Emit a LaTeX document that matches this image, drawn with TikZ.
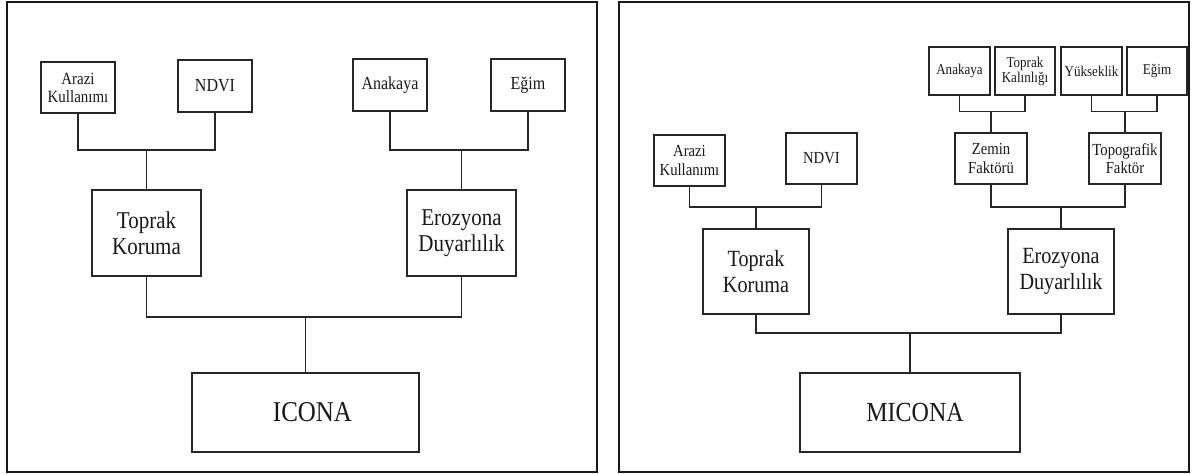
\documentclass[tikz,border=0pt]{standalone}
\usepackage{fontspec}
\setmainfont[FakeStretch=0.87]{Liberation Serif}
\begin{document}
\begin{tikzpicture}[x=1pt,y=-1pt,
  box/.style={draw=black!85, line width=1.6pt, inner sep=0pt, align=center, text=black!90},
  frame/.style={draw=black!90, line width=2.2pt},
  conn/.style={draw=black!85, line width=1.6pt},
  fs/.style={font=\fontsize{17.2}{18}\selectfont},
  fm/.style={font=\fontsize{18.4}{19}\selectfont},
  fr/.style={font=\fontsize{15}{15}\selectfont},
  fq/.style={font=\fontsize{16.9}{18.3}\selectfont},
  fl/.style={font=\fontsize{24.1}{25.7}\selectfont},
  fk/.style={font=\fontsize{23.2}{25.3}\selectfont},
  fx/.style={font=\fontsize{28.7}{30}\selectfont}]
\useasboundingbox (0,0) rectangle (1192,474);
\fill[white] (0,0) rectangle (1192,474);
% frames
\draw[frame] (7,2) rectangle (597,472);
\draw[frame] (619,2) rectangle (1189,472);

% ---------- left panel ----------
\node[box,fs,minimum width=73.5pt,minimum height=51pt] (Larazi) at (78,87.5) {Arazi\\Kullanımı};
\node[box,fm,minimum width=74pt,minimum height=52pt] (Lndvi) at (215,86) {NDVI};
\node[box,fm,minimum width=74pt,minimum height=52pt] (Lanak) at (390,85) {Anakaya};
\node[box,fm,minimum width=74pt,minimum height=52pt] (Legim) at (528,85) {Eğim};
\node[box,fl,minimum width=109pt,minimum height=86pt] (Ltop) at (146.5,233) {Toprak\\Koruma};
\node[box,fl,minimum width=109pt,minimum height=86pt] (Lero) at (461.5,233) {Erozyona\\Duyarlılık};
\node[box,fx,minimum width=227pt,minimum height=79pt] (Licona) at (305.5,412.5) {\hspace*{14pt}ICONA};

\coordinate (LJa) at (0,150);
\coordinate (LJb) at (0,317);
\draw[conn] (Larazi.south) |- (Lndvi.south |- LJa) -- (Lndvi.south);
\draw[conn] (Ltop.north) -- (Ltop.north |- LJa);
\draw[conn] (Lanak.south) |- (Legim.south |- LJa) -- (Legim.south);
\draw[conn] (Lero.north) -- (Lero.north |- LJa);
\draw[conn] (Ltop.south) |- (Lero.south |- LJb) -- (Lero.south);
\draw[conn] (Licona.north) -- (Licona.north |- LJb);

% ---------- right panel ----------
\node[box,fq,minimum width=71pt,minimum height=51pt] (Rarazi) at (689.5,160.5) {Arazi\\Kullanımı};
\node[box,fq,minimum width=71pt,minimum height=51pt] (Rndvi) at (821.5,158.5) {NDVI};
\node[box,fr,minimum width=61pt,minimum height=48pt] (Ranak) at (959.5,71) {Anakaya};
\node[box,fr,minimum width=60pt,minimum height=48pt] (Rkal) at (1025,71) {Toprak\\Kalınlığı};
\node[box,fr,minimum width=61pt,minimum height=48pt] (Ryuk) at (1091.5,71) {Yükseklik};
\node[box,fr,minimum width=60pt,minimum height=48pt] (Regim) at (1157,71) {Eğim};
\node[box,fq,minimum width=72pt,minimum height=51pt] (Rzem) at (991,158.5) {Zemin\\Faktörü};
\node[box,fq,minimum width=72pt,minimum height=51pt] (Rtopo) at (1125,158.5) {Topografik\\Faktör};
\node[box,fk,minimum width=106pt,minimum height=85pt] (Rtop) at (756,271.5) {Toprak\\Koruma};
\node[box,fk,minimum width=106pt,minimum height=85pt] (Rero) at (1061,271.5) {Erozyona\\Duyarlılık};
\node[box,font=\fontsize{27.6}{29}\selectfont,minimum width=220pt,minimum height=79pt] (Rmicona) at (910,412.5) {\hspace*{10pt}MICONA};

\coordinate (RJa) at (0,111.5);
\coordinate (RJb) at (0,207);
\coordinate (RJc) at (0,333);
\draw[conn] (Ranak.south) |- (Rkal.south |- RJa) -- (Rkal.south);
\draw[conn] (Rzem.north) -- (Rzem.north |- RJa);
\draw[conn] (Ryuk.south) |- (Regim.south |- RJa) -- (Regim.south);
\draw[conn] (Rtopo.north) -- (Rtopo.north |- RJa);
\draw[conn] (Rarazi.south) |- (Rndvi.south |- RJb) -- (Rndvi.south);
\draw[conn] (Rtop.north) -- (Rtop.north |- RJb);
\draw[conn] (Rzem.south) |- (Rtopo.south |- RJb) -- (Rtopo.south);
\draw[conn] (Rero.north) -- (Rero.north |- RJb);
\draw[conn] (Rtop.south) |- (Rero.south |- RJc) -- (Rero.south);
\draw[conn] (Rmicona.north) -- (Rmicona.north |- RJc);
\end{tikzpicture}
\end{document}
